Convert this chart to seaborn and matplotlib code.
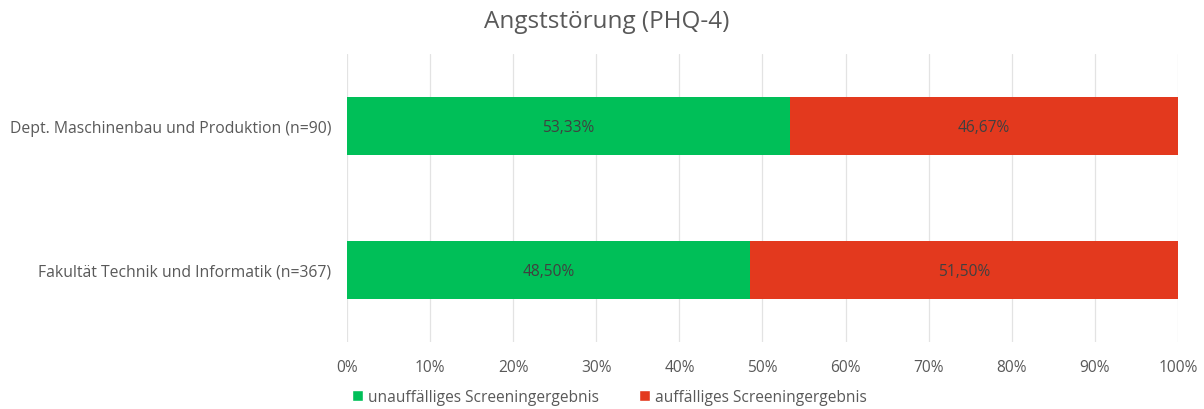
import matplotlib
matplotlib.use("Agg")
from matplotlib import pyplot as plt
from matplotlib.patches import Patch
import seaborn as sb
import pandas as pd
import numpy as np

# Daten
kategorien = ["Dept. Maschinenbau und Produktion (n=90)",
              "Fakultät Technik und Informatik (n=367)"]
unauffaellig = [53.33, 48.50]
auffaellig = [46.67, 51.50]
serien = ["unauffälliges Screeningergebnis", "auffälliges Screeningergebnis"]
xticks = [0, 10, 20, 30, 40, 50, 60, 70, 80, 90, 100]

gruen = "#00BF58"
rot = "#E3391E"
grau = "#595959"

sb.set_theme(style="white")
plt.rcParams["font.family"] = ["Open Sans", "DejaVu Sans"]

df = pd.DataFrame({"Kategorie": kategorien,
                   "unauff": unauffaellig,
                   "auff": auffaellig})
df["summe"] = df["unauff"] + df["auff"]

fig = plt.figure(figsize=(12.04, 4.10), dpi=100)
ax = fig.add_axes([0.2882, 0.1634, 0.6902, 0.7025])

sb.barplot(data=df, y="Kategorie", x="summe", color=rot, orient="h",
           width=0.4, saturation=1, linewidth=0, ax=ax, zorder=2)
sb.barplot(data=df, y="Kategorie", x="unauff", color=gruen, orient="h",
           width=0.4, saturation=1, linewidth=0, ax=ax, zorder=3)

# Beschriftungen in den Balken
for i, (u, a) in enumerate(zip(unauffaellig, auffaellig)):
    ax.text(u / 2, i + 0.01, f"{u:.2f}%".replace(".", ","), ha="center", va="center",
            fontsize=11.2, color="#404040", zorder=4)
    ax.text(u + a / 2, i + 0.01, f"{a:.2f}%".replace(".", ","), ha="center", va="center",
            fontsize=11.2, color="#404040", zorder=4)

ax.set_xlim(0, 100)
ax.set_ylim(1.5, -0.5)
ax.set_xticks(xticks)
ax.set_xticklabels([f"{t}%" for t in xticks])
ax.tick_params(axis="x", colors=grau, labelsize=11.2, length=0, pad=12)
ax.tick_params(axis="y", colors=grau, labelsize=11.3, length=0, pad=11.5)
ax.set_xlabel("")
ax.set_ylabel("")
ax.grid(axis="x", color="#E3E3E3", linewidth=0.9, zorder=0)
ax.set_axisbelow(True)
for s in ax.spines.values():
    s.set_visible(False)

fig.text(0.504, 1 - 22 / 410, "Angststörung (PHQ-4)", fontsize=17.5, color=grau,
         ha="center", va="center")

handles = [Patch(facecolor=gruen, label=serien[0]),
           Patch(facecolor=rot, label=serien[1])]
leg = fig.legend(handles=handles, loc="lower center", ncol=2, frameon=False,
                 bbox_to_anchor=(0.506, -0.025), fontsize=11.2, handlelength=0.7,
                 handleheight=0.7, handletextpad=0.3, columnspacing=2.6)
for t in leg.get_texts():
    t.set_color(grau)

fig.savefig("out.png", dpi=100)
